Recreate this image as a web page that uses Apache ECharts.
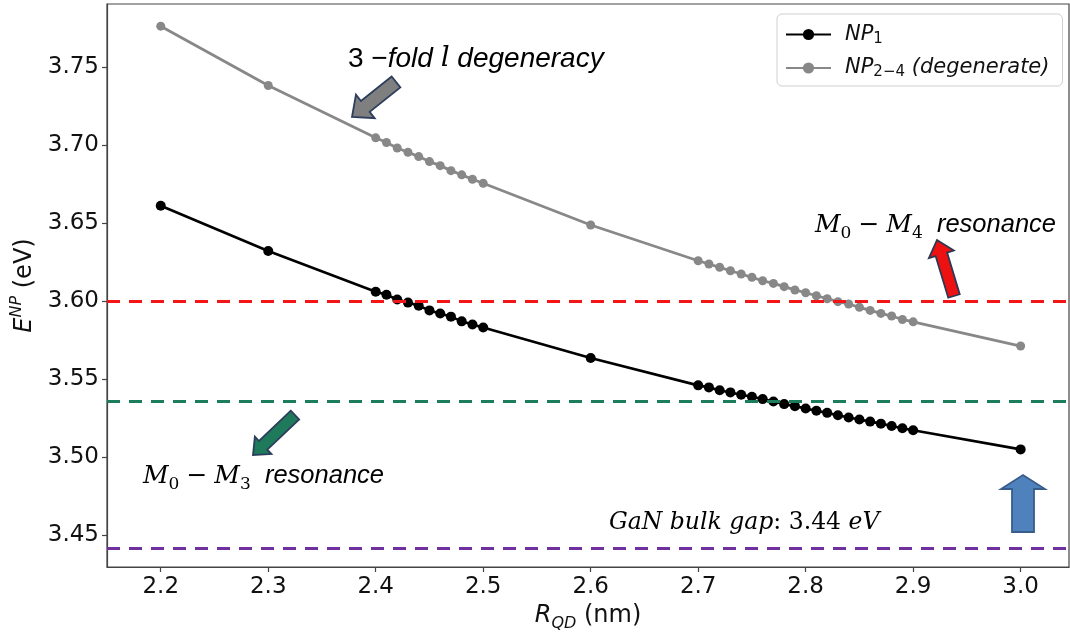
<!DOCTYPE html>
<html>
<head>
<meta charset="utf-8">
<script src="https://cdn.jsdelivr.net/npm/echarts@6/dist/echarts.min.js"></script>
<style>
  html, body { margin: 0; padding: 0; background: #fff; }
  #chart { width: 1070px; height: 632px; }
</style>
</head>
<body>
<div id="chart"></div>
<script>
// Quantum-dot radius (nm) at which the NP levels were computed
const radiusNm = [
  2.20, 2.30, 2.40, 2.41, 2.42, 2.43, 2.44, 2.45, 2.46, 2.47, 2.48, 2.49, 2.50,
  2.60, 2.70, 2.71, 2.72, 2.73, 2.74, 2.75, 2.76, 2.77, 2.78, 2.79, 2.80,
  2.81, 2.82, 2.83, 2.84, 2.85, 2.86, 2.87, 2.88, 2.89, 2.90, 3.00
];

// NP1 energy (eV)
const np1Energy = [
  3.661, 3.632, 3.606, 3.604, 3.601, 3.599, 3.597, 3.594, 3.592, 3.590, 3.587, 3.585, 3.583,
  3.5635, 3.546, 3.5447, 3.5429, 3.5415, 3.5400, 3.5387, 3.5372, 3.5357, 3.5340, 3.5327, 3.5312,
  3.5297, 3.5284, 3.5269, 3.5254, 3.5241, 3.5228, 3.5215, 3.5200, 3.5186, 3.5173, 3.505
];

// NP2-4 energy (eV), threefold degenerate
const np24Energy = [
  3.776, 3.738, 3.7045, 3.7015, 3.698, 3.6953, 3.6925, 3.6893, 3.6867, 3.6835, 3.6808, 3.678, 3.6754,
  3.6487, 3.6258, 3.6237, 3.6216, 3.6194, 3.6173, 3.6152, 3.6130, 3.6113, 3.6092, 3.6071, 3.6053,
  3.6034, 3.6015, 3.5996, 3.5981, 3.5960, 3.5940, 3.5921, 3.5904, 3.5882, 3.5867, 3.5712
];

// Reference energies (eV): M0-M4 resonance, M0-M3 resonance, GaN bulk gap
const levelEnergy = [3.600, 3.536, 3.442];

const xTicks = [2.2, 2.3, 2.4, 2.5, 2.6, 2.7, 2.8, 2.9, 3.0];
const yTicks = [3.45, 3.50, 3.55, 3.60, 3.65, 3.70, 3.75];

const levelColors = ['#f41616', '#1b7d5b', '#7030a0'];

const pairs = (xs, ys) => xs.map((x, i) => [x, ys[i]]);

// Block arrow outline from tail point to tip point
function blockArrow(tail, tip, shaftHalf, headHalf, headLen) {
  const dx = tip[0] - tail[0], dy = tip[1] - tail[1];
  const len = Math.hypot(dx, dy);
  const ux = dx / len, uy = dy / len;
  const nx = -uy, ny = ux;
  const bx = tip[0] - ux * headLen, by = tip[1] - uy * headLen;
  return [
    [tail[0] + nx * shaftHalf, tail[1] + ny * shaftHalf],
    [bx + nx * shaftHalf, by + ny * shaftHalf],
    [bx + nx * headHalf, by + ny * headHalf],
    [tip[0], tip[1]],
    [bx - nx * headHalf, by - ny * headHalf],
    [bx - nx * shaftHalf, by - ny * shaftHalf],
    [tail[0] - nx * shaftHalf, tail[1] - ny * shaftHalf]
  ];
}

const SANS = 'DejaVu Sans';
const ARIAL = 'Liberation Sans';
const MATH = 'DejaVu Serif';

const mathRich = {
  m: { fontFamily: MATH, fontStyle: 'italic', fontSize: 25, lineHeight: 34, verticalAlign: 'middle', color: '#111' },
  g: { fontFamily: MATH, fontStyle: 'italic', fontSize: 23.5, lineHeight: 34, verticalAlign: 'middle', color: '#111' },
  r: { fontFamily: MATH, fontSize: 23.5, lineHeight: 34, verticalAlign: 'middle', color: '#111' },
  op: { fontFamily: MATH, fontSize: 25, lineHeight: 34, verticalAlign: 'middle', color: '#111', padding: [0, 7, 0, 7] },
  sub: { fontFamily: MATH, fontSize: 17, lineHeight: 34, verticalAlign: 'bottom', color: '#111' },
  t: { fontFamily: ARIAL, fontStyle: 'italic', fontSize: 25.5, lineHeight: 34, verticalAlign: 'middle', color: '#111' },
  d: { fontFamily: ARIAL, fontStyle: 'italic', fontSize: 28, lineHeight: 34, verticalAlign: 'middle', color: '#111' },
  dl: { fontFamily: MATH, fontStyle: 'italic', fontSize: 28, lineHeight: 34, verticalAlign: 'middle', color: '#111' },
  u: { fontFamily: ARIAL, fontSize: 28, lineHeight: 34, verticalAlign: 'middle', color: '#111' }
};

function label(x, y, text) {
  return {
    type: 'text', x: x, y: y, z: 10, silent: true,
    style: { text: text, rich: mathRich, verticalAlign: 'middle', align: 'left' }
  };
}

function arrow(points, fill, stroke) {
  return {
    type: 'polygon', z: 9, silent: true,
    shape: { points: points },
    style: { fill: fill, stroke: stroke, lineWidth: 1.8, lineJoin: 'miter' }
  };
}

const chart = echarts.init(document.getElementById('chart'), null, { renderer: 'canvas' });

const option = {
  animation: false,
  backgroundColor: '#fff',
  grid: {
    left: 107, top: 4, right: 1, bottom: 65,
    outerBoundsMode: 'none', containLabel: false,
    show: true, borderColor: '#444', borderWidth: 1.2, backgroundColor: 'transparent'
  },
  xAxis: {
    type: 'value', min: 2.15, max: 3.045,
    splitLine: { show: false },
    axisLine: { show: true, lineStyle: { color: '#444', width: 1.2 } },
    axisTick: { show: true, length: 5, lineStyle: { color: '#444', width: 1.2 }, customValues: xTicks },
    axisLabel: {
      customValues: xTicks, fontSize: 23, fontFamily: SANS, color: '#111', margin: 9,
      formatter: v => v.toFixed(1)
    },
    name: '{i|R}{sub|QD}{n| (nm)}',
    nameLocation: 'middle', nameGap: 21,
    nameTextStyle: {
      rich: {
        i: { fontFamily: SANS, fontStyle: 'italic', fontSize: 24, lineHeight: 32, verticalAlign: 'middle', color: '#111' },
        sub: { fontFamily: SANS, fontStyle: 'italic', fontSize: 16, lineHeight: 32, verticalAlign: 'bottom', color: '#111' },
        n: { fontFamily: SANS, fontSize: 24, lineHeight: 32, verticalAlign: 'middle', color: '#111' }
      }
    }
  },
  yAxis: {
    type: 'value', min: 3.4297, max: 3.7902,
    splitLine: { show: false },
    axisLine: { show: true, lineStyle: { color: '#444', width: 1.2 } },
    axisTick: { show: true, length: 5, lineStyle: { color: '#444', width: 1.2 }, customValues: yTicks },
    axisLabel: {
      customValues: yTicks, fontSize: 23, fontFamily: SANS, color: '#111', margin: 8,
      formatter: v => v.toFixed(2)
    },
    name: '{i|E}{sup|NP}{n| (eV)}',
    nameLocation: 'middle', nameGap: 64, nameRotate: 90,
    nameTextStyle: {
      rich: {
        i: { fontFamily: SANS, fontStyle: 'italic', fontSize: 24, lineHeight: 32, verticalAlign: 'middle', color: '#111' },
        sup: { fontFamily: SANS, fontStyle: 'italic', fontSize: 16, lineHeight: 32, verticalAlign: 'top', color: '#111' },
        n: { fontFamily: SANS, fontSize: 24, lineHeight: 32, verticalAlign: 'middle', color: '#111' }
      }
    }
  },
  legend: {
    left: 777, top: 14, orient: 'vertical',
    padding: [10, 13, 6, 8], itemGap: 11,
    itemWidth: 45, itemHeight: 14,
    borderColor: '#cfcfcf', borderWidth: 1, borderRadius: 5, backgroundColor: '#fff',
    data: ['NP1', 'NP2-4'],
    formatter: name => name === 'NP1'
      ? '{i|NP}{s|1}'
      : '{i|NP}{s|2−4}{i| (degenerate)}',
    textStyle: {
      rich: {
        i: { fontFamily: SANS, fontStyle: 'italic', fontSize: 21, lineHeight: 24, verticalAlign: 'middle', color: '#111' },
        s: { fontFamily: SANS, fontSize: 15, lineHeight: 24, verticalAlign: 'bottom', color: '#111' }
      },
      padding: [0, 0, 0, 9]
    }
  },
  series: [
    {
      type: 'line', name: 'levels', data: [], z: 1, silent: true,
      markLine: {
        symbol: 'none', silent: true, animation: false, precision: 4,
        label: { show: false },
        data: levelEnergy.map((v, i) => ({
          yAxis: v,
          lineStyle: { color: levelColors[i], type: [13, 9], width: 3 }
        }))
      }
    },
    {
      type: 'line', name: 'NP2-4', z: 3,
      data: pairs(radiusNm, np24Energy),
      symbol: 'circle', symbolSize: 9, showSymbol: true,
      lineStyle: { color: '#888', width: 2.8 },
      itemStyle: { color: '#888' }
    },
    {
      type: 'line', name: 'NP1', z: 4,
      data: pairs(radiusNm, np1Energy),
      symbol: 'circle', symbolSize: 10, showSymbol: true,
      lineStyle: { color: '#000', width: 2.6 },
      itemStyle: { color: '#000' }
    }
  ],
  graphic: [
    label(348, 59, '{u|3 −}{d|fold }{dl|l}{d| degeneracy}'),
    label(815, 225, '{m|M}{sub|0}{op|−}{m|M}{sub|4}{t|  resonance}'),
    label(143, 476, '{m|M}{sub|0}{op|−}{m|M}{sub|3}{t|  resonance}'),
    label(609, 523, '{g|GaN bulk gap}{r|: 3.44 }{g|eV}'),
    arrow(blockArrow([396, 82], [352, 117], 7, 15, 17), '#7f7f7f', '#2c3e5c'),
    arrow(blockArrow([954, 296], [937, 240], 6, 13, 15), '#ee1111', '#2c3852'),
    arrow(blockArrow([295, 415], [253, 455], 6, 12, 14), '#1e7a5a', '#2c3e5c'),
    arrow(blockArrow([1023, 532], [1023, 475], 11, 22, 14), '#4f81bd', '#385d8a')
  ]
};

chart.setOption(option);
</script>
</body>
</html>
